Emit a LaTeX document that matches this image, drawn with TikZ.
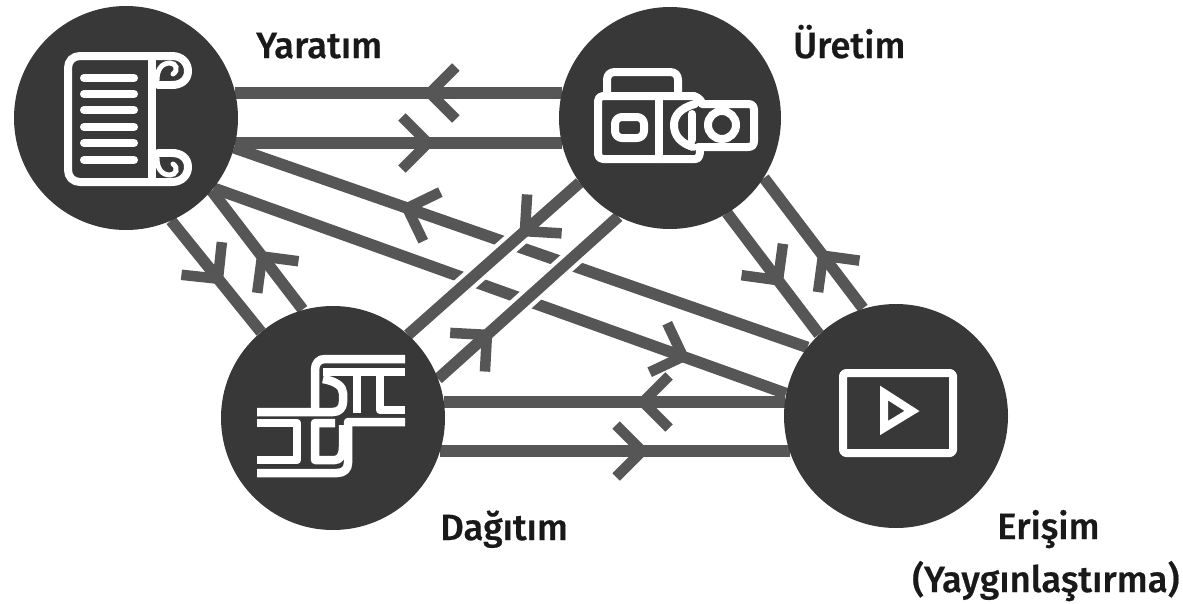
\documentclass[tikz,border=0pt]{standalone}
\usepackage{fontspec}
\setmainfont{Fira Sans Medium}[FakeBold=0.5]
\usetikzlibrary{backgrounds,decorations.markings}
\definecolor{disc}{HTML}{383838}
\definecolor{linkc}{HTML}{565656}
\tikzset{
  hub/.style={circle,fill=disc,inner sep=0pt,minimum size=#1},
  hub/.default=224pt,
  lbl/.style={anchor=base west,inner sep=0pt,text=black!90,font=\fontsize{36.5}{36.5}\selectfont},
  link/.style={draw=linkc,line width=11.5pt},
  halo/.style={draw=white,line width=20pt},
  arrowat/.style={postaction={decorate,decoration={markings,mark=at position #1 with {
    \draw[draw=linkc,line width=10.5pt,line join=miter] (-26,-26)--(0,0)--(-26,26);}}}},
  ico/.style={draw=white,line width=8pt,line cap=round,line join=round},
  icobutt/.style={draw=white,line width=8.5pt,line cap=butt,line join=round},
  icothin/.style={draw=white,line width=5pt,line cap=round}
}
\newcommand{\at}[3]{([shift={(#2,#3)}]#1.center)}
\begin{document}
\begin{tikzpicture}[x=1pt,y=-1pt]
\useasboundingbox (0,0) rectangle (1183,603);
\node[hub] (Y) at (126,118) {};
\node[hub=222pt] (U) at (670,118) {};
\node[hub] (D) at (333,418) {};
\node[hub] (E) at (896,416) {};
\node[lbl] (ty) at (256,58) {Yaratım};
\node[lbl] (tu) at (793,58) {Üretim};
\node[lbl] (td) at (440,540) {Dağıtım};
\node[lbl] (te) at (997,539) {Erişim};
\node[lbl] (tp) at (912,592) {(Yaygınlaştırma)};
\begin{scope}[on background layer]
  % Yaratim - Uretim
  \draw[link,arrowat=0.404] \at{U}{-108}{-25} -- \at{Y}{109}{-25};
  \draw[link,arrowat=0.590] \at{Y}{109}{25} -- \at{U}{-108}{25};
  % Yaratim - Erisim
  \draw[link,arrowat=0.698] \at{E}{-88.5}{-68.6} -- \at{Y}{108}{29.8};
  \draw[link,arrowat=0.820] \at{Y}{87.5}{70.1} -- \at{E}{-110}{-22.5};
  % halos for the crossings
  \draw[halo] \at{U}{-90.3}{64.6} -- \at{D}{75}{-83.2};
  \draw[halo] \at{D}{105}{-39.2} -- \at{U}{-51.5}{98.6};
  % Uretim - Dagitim
  \draw[link,arrowat=0.319] \at{U}{-90.3}{64.6} -- \at{D}{75}{-83.2};
  \draw[link,arrowat=0.271] \at{D}{105}{-39.2} -- \at{U}{-51.5}{98.6};
  % Yaratim - Dagitim
  \draw[link,arrowat=0.522] \at{Y}{45}{102.5} -- \at{D}{-72}{-86};
  \draw[link,arrowat=0.446] \at{D}{-30.3}{-108.5} -- \at{Y}{85.5}{72.5};
  % Uretim - Erisim
  \draw[link,arrowat=0.554] \at{U}{57}{95} -- \at{E}{-77}{-81.7};
  \draw[link,arrowat=0.404] \at{E}{-33}{-107.7} -- \at{U}{94}{60};
  % Dagitim - Erisim
  \draw[link,arrowat=0.416] \at{E}{-111.1}{-14} -- \at{D}{110.9}{-16};
  \draw[link,arrowat=0.578] \at{D}{107}{33} -- \at{E}{-106.4}{35};
\end{scope}
% scroll icon
\draw[ico] (172,85) -- (158,85) (172,153) -- (158,153);
\draw[ico] (172,85) .. controls (181,85) and (188,80) .. (188,71) .. controls (188,63) and (182,56) .. (172,56)
  -- (80,56) .. controls (73,56) and (68,61) .. (68,68) -- (68,170) .. controls (68,177) and (73,182) .. (80,182)
  -- (172,182) .. controls (182,182) and (188,175) .. (188,167) .. controls (188,158) and (181,153) .. (172,153);
\draw[ico] (152,60) -- (152,182);
\draw[icothin] (157,80) .. controls (157,69) and (162,63) .. (170,63) .. controls (176,63) and (179,70) .. (173,74);
\draw[icothin] (157,158) .. controls (157,169) and (162,175) .. (170,175) .. controls (176,175) and (179,168) .. (173,164);
\foreach \yy in {78,94,110,127,143,160} \draw[ico] (84,\yy) -- (134,\yy);
% camera icon
\draw[ico] (607,96) -- (607,80) .. controls (607,75) and (610,72) .. (615,72) -- (670,72) .. controls (675,72) and (678,75) .. (678,80) -- (678,96);
\draw[ico] (694,96) -- (603,96) .. controls (600,96) and (598,98) .. (598,101) -- (598,154) .. controls (598,157) and (600,159) .. (603,159) -- (695,159) .. controls (698,159) and (700,157) .. (700,150);
\draw[ico] (659,96) -- (659,159);
\draw[ico,rounded corners=7pt] (615,117) rectangle (644,138);
\draw[ico] (694,96) .. controls (700,98) and (702,102) .. (702,104) -- (748,104) .. controls (752,104) and (754,106) .. (754,110) -- (754,141) .. controls (754,145) and (752,147) .. (748,147) -- (698,147);
\draw[ico] (693,147) .. controls (680,143) and (674,135) .. (674,125) .. controls (674,116) and (680,108) .. (695,104);
\draw[ico] (692,114) .. controls (692,122) and (692,130) .. (692,140);
\draw[ico] (722,125) circle (14pt);
% distribution icon
\draw[icobutt] (405,359) -- (325,359) .. controls (319,359) and (315,363) .. (315,370) -- (315,408);
\draw[icobutt] (257,412) -- (333,412) .. controls (339,412) and (343,408) .. (343,402) -- (343,393) .. controls (343,386) and (335,381) .. (323,379);
\draw[icobutt] (323,372) -- (405,372);
\draw[icobutt] (357,372) -- (357,413);
\draw[icobutt] (380,372) -- (380,410) -- (405,410);
\draw[icobutt] (405,422) -- (348,422) -- (348,463) .. controls (348,469) and (344,473) .. (337,473) -- (257,473);
\draw[icobutt] (257,423) -- (297,423) -- (297,460) -- (257,460);
\draw[icobutt] (335,423) -- (315,423) -- (315,460) -- (335,460) .. controls (340,460) and (343,455) .. (343,447) -- (343,425);
% screen icon
\draw[ico,rounded corners=3pt] (843,373) rectangle (953,453);
\draw[ico,line join=miter] (884,393) -- (912,411) -- (884,428) -- cycle;
\end{tikzpicture}
\end{document}
